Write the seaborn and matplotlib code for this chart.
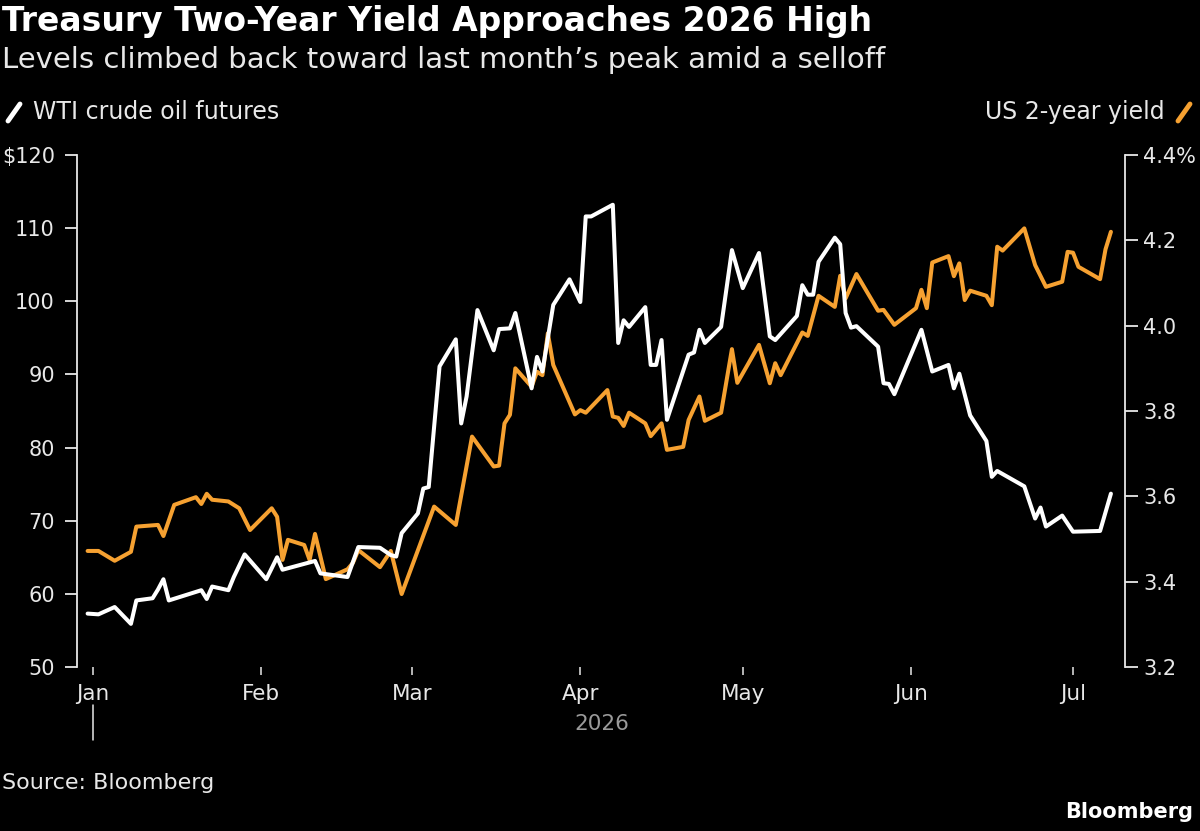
import matplotlib
matplotlib.use("Agg")
import matplotlib.pyplot as plt
import matplotlib.dates as mdates
import matplotlib.transforms as mtransforms
from matplotlib.lines import Line2D
import seaborn as sns
import pandas as pd

# ---------------- data ----------------
oil_dates = [
    "2025-12-31", "2026-01-02", "2026-01-05", "2026-01-08", "2026-01-09", "2026-01-12",
    "2026-01-13", "2026-01-14", "2026-01-15", "2026-01-21", "2026-01-22", "2026-01-23",
    "2026-01-26", "2026-01-27", "2026-01-29", "2026-02-02", "2026-02-04", "2026-02-05",
    "2026-02-10", "2026-02-11", "2026-02-12", "2026-02-17", "2026-02-19", "2026-02-23",
    "2026-02-25", "2026-02-26", "2026-02-27", "2026-03-02", "2026-03-03", "2026-03-04",
    "2026-03-06", "2026-03-09", "2026-03-10", "2026-03-11", "2026-03-13", "2026-03-16",
    "2026-03-17", "2026-03-19", "2026-03-20", "2026-03-23", "2026-03-24", "2026-03-25",
    "2026-03-27", "2026-03-30", "2026-04-01", "2026-04-02", "2026-04-03", "2026-04-07",
    "2026-04-08", "2026-04-09", "2026-04-10", "2026-04-13", "2026-04-14", "2026-04-15",
    "2026-04-16", "2026-04-17", "2026-04-21", "2026-04-22", "2026-04-23", "2026-04-24",
    "2026-04-27", "2026-04-29", "2026-05-01", "2026-05-04", "2026-05-06", "2026-05-07",
    "2026-05-11", "2026-05-12", "2026-05-13", "2026-05-14", "2026-05-15", "2026-05-18",
    "2026-05-19", "2026-05-20", "2026-05-21", "2026-05-22", "2026-05-26", "2026-05-27",
    "2026-05-28", "2026-05-29", "2026-06-03", "2026-06-05", "2026-06-08", "2026-06-09",
    "2026-06-10", "2026-06-12", "2026-06-15", "2026-06-16", "2026-06-17", "2026-06-22",
    "2026-06-24", "2026-06-25", "2026-06-26", "2026-06-29", "2026-07-01", "2026-07-06",
    "2026-07-08",
]
oil_values = [
    57.3, 57.2, 58.2, 55.9, 59.1, 59.4,
    60.6, 62.0, 59.1, 60.5, 59.3, 61.0,
    60.5, 62.3, 65.4, 62.0, 65.0, 63.3,
    64.3, 64.5, 62.8, 62.3, 66.4, 66.3,
    65.3, 65.1, 68.3, 71.0, 74.4, 74.6,
    91.1, 94.8, 83.3, 87.0, 98.8, 93.3,
    96.2, 96.3, 98.4, 88.1, 92.4, 90.4,
    99.5, 103.0, 99.9, 111.6, 111.6, 113.2,
    94.3, 97.4, 96.5, 99.2, 91.3, 91.3,
    94.7, 83.8, 92.7, 93.0, 96.1, 94.3,
    96.5, 107.0, 101.8, 106.6, 95.2, 94.7,
    98.0, 102.2, 100.9, 100.9, 105.4, 108.7,
    107.8, 98.4, 96.4, 96.6, 93.8, 88.8,
    88.7, 87.3, 96.1, 90.4, 91.3, 88.1,
    90.1, 84.4, 80.9, 76.0, 76.8, 74.7,
    70.3, 71.8, 69.2, 70.7, 68.5, 68.6,
    73.7,
]

yield_dates = [
    "2025-12-31", "2026-01-02", "2026-01-05", "2026-01-08", "2026-01-09", "2026-01-13",
    "2026-01-14", "2026-01-16", "2026-01-20", "2026-01-21", "2026-01-22", "2026-01-23",
    "2026-01-26", "2026-01-28", "2026-01-30", "2026-02-03", "2026-02-04", "2026-02-05",
    "2026-02-06", "2026-02-09", "2026-02-10", "2026-02-11", "2026-02-13", "2026-02-17",
    "2026-02-18", "2026-02-19", "2026-02-23", "2026-02-25", "2026-02-27", "2026-03-05",
    "2026-03-09", "2026-03-12", "2026-03-16", "2026-03-17", "2026-03-18", "2026-03-19",
    "2026-03-20", "2026-03-23", "2026-03-24", "2026-03-25", "2026-03-26", "2026-03-27",
    "2026-03-31", "2026-04-01", "2026-04-02", "2026-04-06", "2026-04-07", "2026-04-08",
    "2026-04-09", "2026-04-10", "2026-04-13", "2026-04-14", "2026-04-16", "2026-04-17",
    "2026-04-20", "2026-04-21", "2026-04-23", "2026-04-24", "2026-04-27", "2026-04-29",
    "2026-04-30", "2026-05-04", "2026-05-06", "2026-05-07", "2026-05-08", "2026-05-12",
    "2026-05-13", "2026-05-15", "2026-05-18", "2026-05-19", "2026-05-20", "2026-05-22",
    "2026-05-26", "2026-05-27", "2026-05-29", "2026-06-02", "2026-06-03", "2026-06-04",
    "2026-06-05", "2026-06-08", "2026-06-09", "2026-06-10", "2026-06-11", "2026-06-12",
    "2026-06-15", "2026-06-16", "2026-06-17", "2026-06-18", "2026-06-22", "2026-06-24",
    "2026-06-26", "2026-06-29", "2026-06-30", "2026-07-01", "2026-07-02", "2026-07-06",
    "2026-07-07", "2026-07-08",
]
yield_values = [
    3.472, 3.472, 3.449, 3.470, 3.529, 3.533,
    3.507, 3.580, 3.598, 3.582, 3.606, 3.592,
    3.588, 3.572, 3.521, 3.572, 3.552, 3.451,
    3.498, 3.486, 3.451, 3.512, 3.406, 3.429,
    3.444, 3.474, 3.434, 3.472, 3.371, 3.576,
    3.533, 3.740, 3.670, 3.672, 3.771, 3.791,
    3.900, 3.857, 3.892, 3.884, 3.982, 3.908,
    3.792, 3.802, 3.796, 3.849, 3.787, 3.784,
    3.765, 3.796, 3.771, 3.741, 3.771, 3.709,
    3.716, 3.779, 3.834, 3.777, 3.796, 3.945,
    3.866, 3.955, 3.865, 3.912, 3.884, 3.984,
    3.976, 4.070, 4.044, 4.117, 4.064, 4.121,
    4.035, 4.037, 4.002, 4.041, 4.084, 4.041,
    4.148, 4.163, 4.116, 4.146, 4.060, 4.082,
    4.070, 4.048, 4.185, 4.176, 4.228, 4.142,
    4.091, 4.103, 4.173, 4.171, 4.138, 4.109,
    4.179, 4.220,
]

oil_ticks = [50, 60, 70, 80, 90, 100, 110, 120]
oil_tick_labels = ["50", "60", "70", "80", "90", "100", "110", "$120"]
yield_ticks = [3.2, 3.4, 3.6, 3.8, 4.0, 4.2, 4.4]
yield_tick_labels = ["3.2", "3.4", "3.6", "3.8", "4.0", "4.2", "4.4%"]

title = "Treasury Two-Year Yield Approaches 2026 High"
subtitle = "Levels climbed back toward last month\u2019s peak amid a selloff"
oil_label = "WTI crude oil futures"
yield_label = "US 2-year yield"
source = "Source: Bloomberg"

# ---------------- style ----------------
BG = "#000000"
ORANGE = "#F6A131"
WHITE = "#FFFFFF"
TXT = "#E8E8E8"
GRAY = "#9A9A9A"

sns.set_theme(style="dark")
plt.rcParams["font.family"] = ["DejaVu Sans"]
plt.rcParams.update({
    "figure.facecolor": BG, "axes.facecolor": BG, "savefig.facecolor": BG,
    "axes.grid": False, "text.color": TXT,
})

oil_df = pd.DataFrame({"date": pd.to_datetime(oil_dates), "value": oil_values})
yld_df = pd.DataFrame({"date": pd.to_datetime(yield_dates), "value": yield_values})

fig = plt.figure(figsize=(12, 8.31), dpi=100)
W, H = 1200, 831
L, R, T, B = 77, 1125, 155, 667
ax = fig.add_axes([L / W, 1 - B / H, (R - L) / W, (B - T) / H])
ax2 = ax.twinx()

sns.lineplot(data=yld_df, x="date", y="value", ax=ax2, color=ORANGE, linewidth=2.9, zorder=2)
sns.lineplot(data=oil_df, x="date", y="value", ax=ax, color=WHITE, linewidth=2.9, zorder=3)
ax.set_zorder(ax2.get_zorder() + 1)
ax.patch.set_visible(False)
ax2.patch.set_visible(True)
ax2.patch.set_facecolor(BG)

jan1 = mdates.date2num(pd.Timestamp("2026-01-01"))
ax.set_xlim(jan1 - 2.96, jan1 + 190.6)
ax.set_ylim(50, 120)
ax2.set_ylim(3.2, 4.4)

for a in (ax, ax2):
    a.set_xlabel("")
    a.set_ylabel("")
    for s in a.spines.values():
        s.set_visible(False)
ax.spines["left"].set_visible(True)
ax.spines["left"].set_color(TXT)
ax.spines["left"].set_linewidth(1.3)
ax2.spines["right"].set_visible(True)
ax2.spines["right"].set_color(TXT)
ax2.spines["right"].set_linewidth(1.3)

ax.set_yticks(oil_ticks)
ax.set_yticklabels(oil_tick_labels)
ax2.set_yticks(yield_ticks)
ax2.set_yticklabels(yield_tick_labels)

ax.xaxis.set_major_locator(mdates.MonthLocator())
ax.xaxis.set_major_formatter(mdates.DateFormatter("%b"))

ax.tick_params(axis="y", which="major", left=True, direction="out", length=9,
               width=1.3, color=TXT, labelcolor=TXT, labelsize=15, pad=7)
ax2.tick_params(axis="y", which="major", right=True, direction="out", length=9,
                width=1.3, color=TXT, labelcolor=TXT, labelsize=15, pad=4)
ax.tick_params(axis="x", which="major", bottom=True, direction="out", length=6,
               width=1.1, color=TXT, labelcolor=TXT, labelsize=15.5, pad=6)

# year separator below Jan and year label
blend = mtransforms.blended_transform_factory(ax.transData, ax.transAxes)
ax.plot([jan1, jan1], [-0.074, -0.143], color=TXT, linewidth=1.1,
        transform=blend, clip_on=False)
apr_mid = mdates.date2num(pd.Timestamp("2026-04-05"))
ax.text(apr_mid, 1 - (724 - T) / (B - T), "2026", transform=blend,
        ha="center", va="center", color=GRAY, fontsize=15.5)

# titles
fig.text(2 / W, 1 - 21 / H, title, ha="left", va="center", fontsize=23.8,
         fontweight="bold", color=WHITE)
fig.text(2 / W, 1 - 60 / H, subtitle, ha="left", va="center", fontsize=21,
         color=TXT)

# legend items
fig.text(33 / W, 1 - 112 / H, oil_label, ha="left", va="center", fontsize=17, color=TXT)
fig.add_artist(Line2D([8 / W, 20 / W], [1 - 121 / H, 1 - 104 / H], color=WHITE,
                      linewidth=3.5, solid_capstyle="round", transform=fig.transFigure))
fig.text(1165 / W, 1 - 112 / H, yield_label, ha="right", va="center", fontsize=17, color=TXT)
fig.add_artist(Line2D([1178 / W, 1190 / W], [1 - 121 / H, 1 - 104 / H], color=ORANGE,
                      linewidth=3.5, solid_capstyle="round", transform=fig.transFigure))

fig.text(2 / W, 1 - 783 / H, source, ha="left", va="center", fontsize=16, color=TXT)
fig.text(1193 / W, 1 - 812 / H, "Bloomberg", ha="right", va="center", fontsize=15,
         fontweight="bold", color=WHITE)

fig.savefig("out.png", dpi=100, facecolor=BG)
